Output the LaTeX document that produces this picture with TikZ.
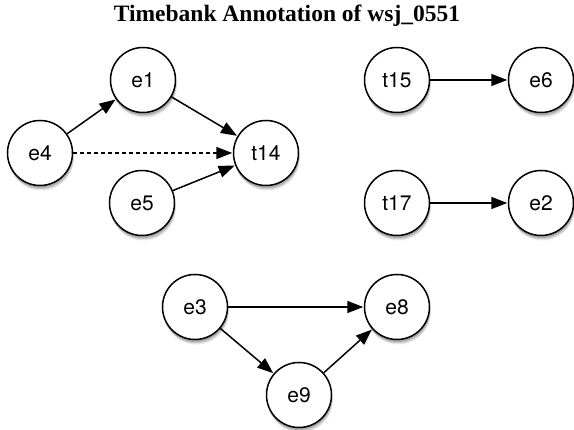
\documentclass[tikz,border=0pt]{standalone}
\usepackage{fontspec}
\setmainfont{Liberation Serif}
\newfontfamily\hv{TeX Gyre Heros}
\usetikzlibrary{arrows.meta,shadows}
\tikzset{
  nd/.style={circle, draw=black, line width=1.5pt, fill=white, minimum size=65pt, inner sep=0pt,
    font=\hv\fontsize{21}{25}\selectfont,
    general shadow={shadow xshift=1.5pt, shadow yshift=-5pt, fill=black, opacity=0.08, scale=1.07},
    general shadow={shadow xshift=1pt, shadow yshift=-4pt, fill=black, opacity=0.12, scale=1.03},
    general shadow={shadow xshift=0.5pt, shadow yshift=-2.5pt, fill=black, opacity=0.18}},
  ed/.style={line width=1.5pt, -{Triangle[length=16pt,width=12pt]}, shorten >=0.5pt},
  dsh/.style={ed, dash pattern=on 3.5pt off 3.5pt}
}
\begin{document}
\begin{tikzpicture}[x=1pt,y=-1pt]
\useasboundingbox (0,0) rectangle (574,430);
\node[font=\bfseries\fontsize{23.5}{28}\selectfont] (title) at (287,16) {Timebank Annotation of wsj\_0551};
\node[nd] (e1) at (143,80) {e1};
\node[nd] (e4) at (40,153) {e4};
\node[nd] (t14) at (266,153) {t14};
\node[nd] (e5) at (142,203) {e5};
\node[nd] (t15) at (397,80) {t15};
\node[nd] (e6) at (541,80) {e6};
\node[nd] (t17) at (397,203) {t17};
\node[nd] (e2) at (541,203) {e2};
\node[nd] (e3) at (195,307) {e3};
\node[nd] (e8) at (397,307) {e8};
\node[nd] (e9) at (299,395) {e9};
\draw[ed] (e4) -- (e1);
\draw[ed] (e1) -- (t14);
\draw[dsh] (e4) -- (t14);
\draw[ed] (e5) -- (t14);
\draw[ed] (t15) -- (e6);
\draw[ed] (t17) -- (e2);
\draw[ed] (e3) -- (e8);
\draw[ed] (e3) -- (e9);
\draw[ed] (e9) -- (e8);
\end{tikzpicture}
\end{document}
